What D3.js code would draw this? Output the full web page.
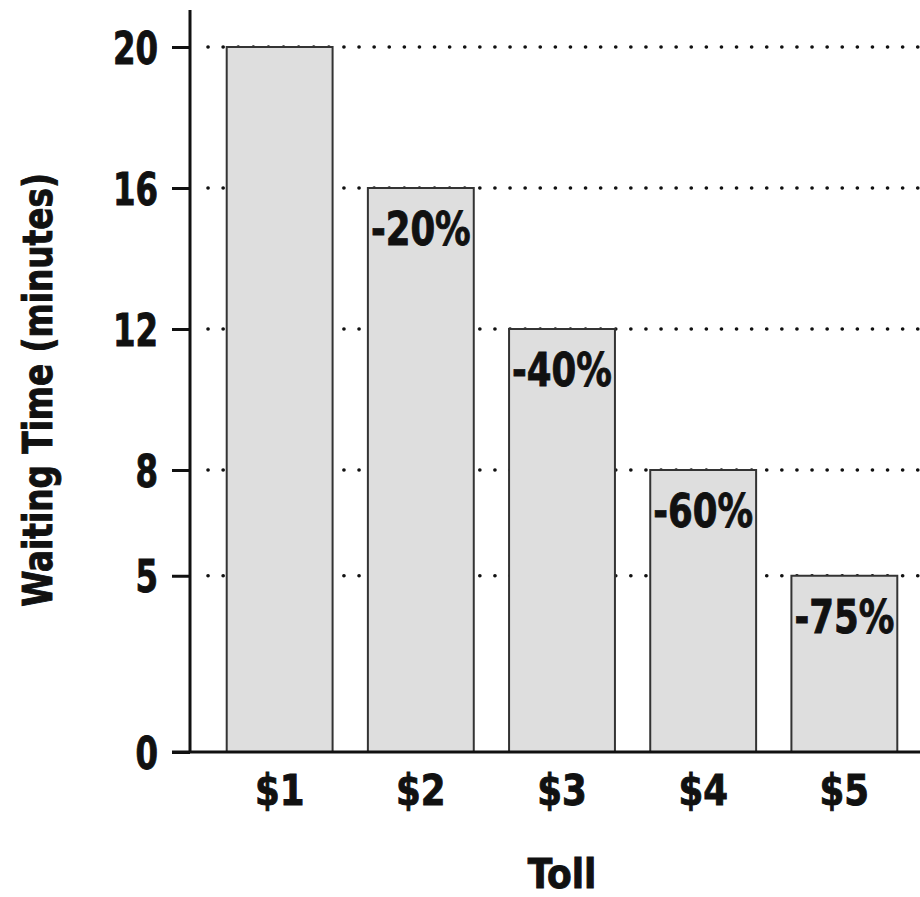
<!DOCTYPE html>
<html><head><meta charset="utf-8">
<script src="https://cdn.jsdelivr.net/npm/d3@7"></script>
<style>
html,body{margin:0;padding:0;background:#fff;}
text{font-family:"Liberation Sans Narrow","DejaVu Sans Condensed","Roboto Condensed",sans-serif;font-weight:bold;fill:#111;stroke:#111;stroke-width:0.9px;}
</style></head>
<body>
<svg id="c" width="920" height="897"></svg>
<script>
const categories = ["$1","$2","$3","$4","$5"];
const waitingTime = [20,16,12,8,5];
const changeLabels = ["","-20%","-40%","-60%","-75%"];
const yTicks = [0,5,8,12,16,20];

const svg = d3.select("#c");
const x = d3.scaleBand().domain(categories).range([190,934]).paddingInner(0.25).paddingOuter(0.26);
const y = d3.scaleLinear().domain([0,20]).range([752,47]);

function squeeze(sel, f){
  sel.each(function(){
    const w = this.getComputedTextLength();
    if (w > 0) d3.select(this).attr("textLength", w*f).attr("lengthAdjust","spacingAndGlyphs");
  });
}

// grid (dotted)
svg.append("g").selectAll("line").data(yTicks.filter(d=>d>0)).join("line")
  .attr("x1",198).attr("x2",920).attr("y1",d=>y(d)).attr("y2",d=>y(d))
  .attr("stroke","#111").attr("stroke-width",3.6).attr("stroke-dasharray","0.1 15")
  .attr("stroke-linecap","round").attr("stroke-dashoffset",-10);

// bars
svg.append("g").selectAll("rect").data(categories).join("rect")
  .attr("x",d=>x(d)).attr("width",x.bandwidth())
  .attr("y",(d,i)=>y(waitingTime[i])).attr("height",(d,i)=>y(0)-y(waitingTime[i]))
  .attr("fill","#dedede").attr("stroke","#333").attr("stroke-width",2);

// bar labels
const bl = svg.append("g").selectAll("text").data(categories).join("text")
  .attr("x",d=>x(d)+x.bandwidth()/2).attr("y",(d,i)=>y(waitingTime[i])+57)
  .attr("text-anchor","middle").attr("font-size",47)
  .text((d,i)=>changeLabels[i]);
squeeze(bl, 0.84);

// y axis
const yAxis = d3.axisLeft(y).tickValues(yTicks).tickSize(18).tickPadding(14).tickSizeOuter(0);
const gy = svg.append("g").attr("transform","translate(190,0)").call(yAxis);
gy.select(".domain").remove();
gy.selectAll(".tick line").attr("stroke","#111").attr("stroke-width",3);
gy.selectAll(".tick text").attr("font-size",45).attr("font-family",null).attr("fill","#111").attr("dy","0.36em");
squeeze(gy.selectAll(".tick text"), 0.8);
gy.append("line").attr("x1",0).attr("x2",0).attr("y1",10).attr("y2",753).attr("stroke","#111").attr("stroke-width",3);

// x axis
const xAxis = d3.axisBottom(x).tickSize(0).tickPadding(22);
const gx = svg.append("g").attr("transform","translate(0,752)").call(xAxis);
gx.select(".domain").remove();
gx.selectAll(".tick text").attr("font-size",43).attr("font-family",null).attr("fill","#111").attr("dy","0.71em");
squeeze(gx.selectAll(".tick text"), 0.92);
svg.append("line").attr("x1",172).attr("x2",920).attr("y1",752).attr("y2",752).attr("stroke","#111").attr("stroke-width",3);

// axis titles
svg.append("text").attr("x",562).attr("y",888).attr("text-anchor","middle").attr("font-size",40).text("Toll");
const yt = svg.append("text").attr("transform","translate(52,390) rotate(-90)").attr("text-anchor","middle").attr("font-size",40).text("Waiting Time (minutes)");
squeeze(yt, 0.91);
</script>
</body></html>
